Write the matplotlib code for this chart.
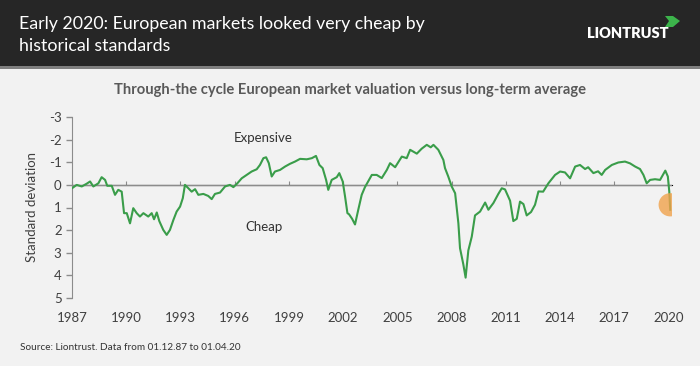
import matplotlib.pyplot as plt
from matplotlib.patches import Rectangle, Polygon

# ================= DATA =================
# decimal year positions and valuation (standard deviations from average)
years = [1987.00, 1987.26, 1987.54, 1987.81, 1988.00, 1988.18, 1988.46, 1988.64,
         1988.83, 1988.95, 1989.20, 1989.38, 1989.56, 1989.75, 1989.88, 1990.03,
         1990.21, 1990.39, 1990.58, 1990.76, 1990.95, 1991.22, 1991.41, 1991.54,
         1991.69, 1991.83, 1992.05, 1992.24, 1992.42, 1992.61, 1992.79, 1992.98,
         1993.13, 1993.25, 1993.44, 1993.62, 1993.81, 1993.99, 1994.27, 1994.54,
         1994.73, 1994.91, 1995.19, 1995.47, 1995.74, 1995.93, 1996.15, 1996.39,
         1996.67, 1996.94, 1997.22, 1997.40, 1997.59, 1997.74, 1997.89, 1998.05,
         1998.23, 1998.51, 1998.79, 1999.06, 1999.34, 1999.62, 1999.99, 2000.27,
         2000.50, 2000.69, 2000.87, 2001.06, 2001.18, 2001.37, 2001.65, 2001.79,
         2001.98, 2002.11, 2002.24, 2002.33, 2002.50, 2002.66, 2002.84, 2003.03,
         2003.21, 2003.59, 2003.86, 2004.14, 2004.42, 2004.60, 2004.88, 2005.25,
         2005.52, 2005.71, 2006.08, 2006.35, 2006.63, 2006.85, 2007.00, 2007.27,
         2007.55, 2007.64, 2007.82, 2008.01, 2008.20, 2008.38, 2008.47, 2008.65,
         2008.78, 2008.93, 2009.12, 2009.30, 2009.58, 2009.86, 2010.04, 2010.32,
         2010.59, 2010.78, 2010.96, 2011.24, 2011.42, 2011.61, 2011.79, 2011.98,
         2012.16, 2012.40, 2012.62, 2012.81, 2013.07, 2013.36, 2013.73, 2014.01,
         2014.28, 2014.56, 2014.84, 2015.11, 2015.39, 2015.56, 2015.85, 2016.11,
         2016.31, 2016.50, 2016.87, 2017.23, 2017.60, 2017.88, 2018.16, 2018.43,
         2018.62, 2018.80, 2018.99, 2019.26, 2019.54, 2019.83, 2019.97, 2020.05,
         2020.10]
std_dev = [0.15, 0.00, 0.07, -0.05, -0.15, 0.07, -0.07, -0.34,
           -0.22, 0.04, 0.04, 0.44, 0.22, 0.30, 1.25, 1.25,
           1.70, 1.03, 1.25, 1.40, 1.25, 1.40, 1.25, 1.52,
           1.22, 1.60, 1.99, 2.21, 1.99, 1.55, 1.18, 0.96,
           0.59, 0.00, 0.15, 0.30, 0.19, 0.44, 0.40, 0.49,
           0.63, 0.40, 0.34, 0.07, 0.00, 0.10, -0.07, -0.29,
           -0.44, -0.59, -0.69, -0.88, -1.18, -1.22, -0.96, -0.37,
           -0.59, -0.66, -0.81, -0.93, -1.03, -1.15, -1.13, -1.18,
           -1.28, -0.88, -0.74, -0.22, 0.22, -0.22, -0.34, -0.52,
           -0.15, 0.52, 1.25, 1.30, 1.50, 1.75, 1.10, 0.44,
           0.10, -0.44, -0.44, -0.30, -0.66, -0.96, -0.78, -1.25,
           -1.18, -1.55, -1.38, -1.60, -1.77, -1.66, -1.77, -1.55,
           -1.10, -0.74, -0.37, 0.07, 0.37, 1.70, 2.80, 3.50,
           4.10, 2.90, 2.29, 1.35, 1.18, 0.78, 1.10, 0.80,
           0.40, 0.15, 0.20, 0.70, 1.60, 1.50, 0.74, 0.85,
           1.35, 1.20, 0.88, 0.29, 0.30, -0.07, -0.44, -0.59,
           -0.55, -0.29, -0.81, -0.88, -0.70, -0.78, -0.52, -0.60,
           -0.44, -0.66, -0.88, -0.99, -1.03, -0.95, -0.81, -0.70,
           -0.44, -0.07, -0.22, -0.25, -0.22, -0.63, -0.37, 0.30,
           1.10]

tick_years = [1987, 1990, 1993, 1996, 1999, 2002, 2005, 2008, 2011, 2014, 2017, 2020]
y_ticks = [-3, -2, -1, 0, 1, 2, 3, 4, 5]
highlight_year = 2020.10
highlight_value = 0.88

TITLE = "Early 2020: European markets looked very cheap by\nhistorical standards"
SUBTITLE = "Through-the cycle European market valuation versus long-term average"
SOURCE = "Source: Liontrust. Data from 01.12.87 to 01.04.20"

# ================= STYLE =================
plt.rcParams['font.family'] = ['Lato', 'DejaVu Sans']
BG = '#f2f2f2'
HEADER = '#262626'
GREEN = '#3a9d4a'
TEXT = '#404040'
AXIS = '#8c8c8c'

fig = plt.figure(figsize=(7, 3.66), dpi=100)
fig.patch.set_facecolor(BG)

# dark header band
fig.patches.append(Rectangle((0, 1 - 66 / 366), 1, 66 / 366, transform=fig.transFigure,
                             facecolor=HEADER, edgecolor='none', zorder=0))
fig.patches.append(Rectangle((0, 1 - 69 / 366), 1, 3 / 366, transform=fig.transFigure,
                             facecolor='#7f7f7f', edgecolor='none', zorder=0))
fig.text(19 / 700, 1 - 35 / 366, TITLE, color='white', fontsize=12.8,
         ha='left', va='center', linespacing=1.4)

# logo
fig.text(628 / 700, 1 - 34 / 366, "LIONTRUST", color='white', fontsize=10.5,
         fontweight='heavy', ha='center', va='center', fontstretch='condensed')
fig.patches.append(Polygon([(665 / 700, 1 - 16 / 366), (673 / 700, 1 - 16 / 366),
                            (680 / 700, 1 - 21 / 366), (673 / 700, 1 - 27 / 366),
                            (665 / 700, 1 - 27 / 366), (669 / 700, 1 - 21 / 366)],
                           closed=True, transform=fig.transFigure,
                           facecolor='#3cb44b', edgecolor='none'))

fig.text(350 / 700, 1 - 90 / 366, SUBTITLE, color='#595959', fontsize=10.6,
         fontweight='bold', ha='center', va='center')

ax = fig.add_axes([72 / 700, 68 / 366, 600 / 700, 181 / 366])
ax.set_facecolor(BG)
ax.plot(years, std_dev, color=GREEN, linewidth=1.5, zorder=3)
ax.axhline(0, color=AXIS, linewidth=1.0, zorder=2)
ax.scatter([highlight_year], [highlight_value], s=280, color='#f0a24c', alpha=0.8,
           edgecolors='none', zorder=4)

ax.set_xlim(1987, 2020.2)
ax.set_ylim(5, -3)
ax.set_yticks(y_ticks)
ax.set_yticklabels([str(v) for v in y_ticks])
ax.set_xticks(tick_years)
ax.set_xticklabels([str(y) for y in tick_years])

for side in ['top', 'right', 'bottom']:
    ax.spines[side].set_visible(False)
ax.spines['left'].set_color(AXIS)
ax.tick_params(axis='y', colors=AXIS, labelcolor=TEXT, labelsize=9.5, length=4, width=1)
ax.tick_params(axis='x', length=0, labelcolor=TEXT, labelsize=9.5, pad=10)

# small ticks sitting on the zero line
sec = ax.secondary_xaxis(5 / 8)
sec.set_xticks(tick_years)
sec.tick_params(axis='x', length=3, color=AXIS, labelbottom=False, labeltop=False,
                direction='out')
sec.spines['bottom'].set_visible(False)

ax.set_ylabel("Standard deviation", color=TEXT, fontsize=9.5, labelpad=8)

ax.text(1997.6, -2.05, "Expensive", color='#333333', fontsize=9.5, ha='center', va='center')
ax.text(1997.6, 1.85, "Cheap", color='#333333', fontsize=9.5, ha='center', va='center')

fig.text(20 / 700, 1 - 347 / 366, SOURCE, color='#333333', fontsize=7.2,
         ha='left', va='center')

fig.savefig("out.png", dpi=100, facecolor=fig.get_facecolor())
